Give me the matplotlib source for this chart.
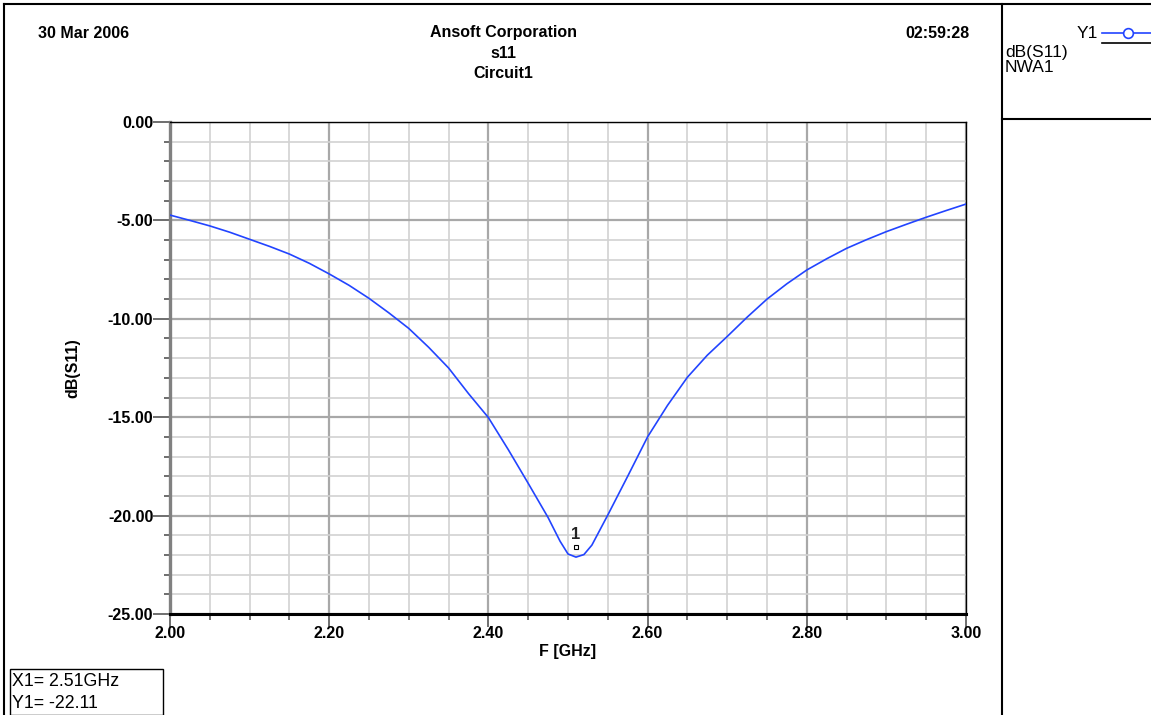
import matplotlib
matplotlib.use("Agg")
import matplotlib.pyplot as plt
from matplotlib.ticker import MultipleLocator, FixedLocator
from matplotlib.lines import Line2D
from matplotlib.patches import Rectangle

plt.rcParams['font.family'] = ['Liberation Sans', 'DejaVu Sans']

freq = [2.000, 2.025, 2.050, 2.075, 2.100, 2.125, 2.150, 2.175, 2.200, 2.225,
        2.250, 2.275, 2.300, 2.325, 2.350, 2.375, 2.400, 2.425, 2.450, 2.475,
        2.490, 2.500, 2.510, 2.520, 2.530, 2.550, 2.575, 2.600, 2.625, 2.650,
        2.675, 2.700, 2.725, 2.750, 2.775, 2.800, 2.825, 2.850, 2.875, 2.900,
        2.925, 2.950, 2.975, 3.000]
s11_db = [-4.73, -5.00, -5.28, -5.60, -5.96, -6.32, -6.71, -7.18, -7.72, -8.30,
          -8.96, -9.70, -10.49, -11.45, -12.50, -13.80, -15.02, -16.65, -18.36, -20.10,
          -21.30, -21.95, -22.11, -21.98, -21.50, -19.97, -18.00, -16.00, -14.40, -12.97,
          -11.85, -10.90, -9.92, -9.00, -8.22, -7.52, -6.95, -6.42, -5.98, -5.57,
          -5.20, -4.84, -4.50, -4.17]

x_ticks = [2.00, 2.20, 2.40, 2.60, 2.80, 3.00]
y_ticks = [0.0, -5.0, -10.0, -15.0, -20.0, -25.0]
marker_x = 2.51
marker_y = -22.11

W, H = 1151, 715
fig = plt.figure(figsize=(W / 100, H / 100), dpi=100)

def fx(px):
    return px / W

def fy(py):
    return 1 - py / H

ax = fig.add_axes([fx(170), fy(614), (966 - 170) / W, (614 - 122) / H])
ax.set_xlim(2.0, 3.0)
ax.set_ylim(-25, 0)

blue = '#2244ff'
ax.plot(freq, s11_db, color=blue, lw=1.2, zorder=3)

ax.xaxis.set_major_locator(FixedLocator(x_ticks))
ax.xaxis.set_minor_locator(MultipleLocator(0.05))
ax.yaxis.set_major_locator(FixedLocator(y_ticks))
ax.yaxis.set_minor_locator(MultipleLocator(1.0))
ax.set_xticklabels([f"{v:.2f}" for v in x_ticks], fontweight='bold', fontsize=11.5)
ax.set_yticklabels([f"{v:.2f}" for v in y_ticks], fontweight='bold', fontsize=11.5)

ax.grid(which='major', color='#a8a8a8', lw=1.6, zorder=0)
ax.grid(which='minor', color='#d2d2d2', lw=1.2, zorder=0)
ax.set_axisbelow(True)

ax.tick_params(axis='y', which='major', length=12, width=1.2, color='#555555', pad=0)
ax.tick_params(axis='both', which='minor', length=4, width=1.2, color='#555555')
ax.tick_params(axis='x', which='major', length=9, width=1.2, color='#555555', pad=0)

for s in ['top', 'right']:
    ax.spines[s].set_linewidth(1.0)
    ax.spines[s].set_color('black')
ax.spines['bottom'].set_linewidth(2.2)
ax.spines['bottom'].set_color('black')
ax.spines['left'].set_linewidth(2.4)
ax.spines['left'].set_color('#808080')

ax.set_xlabel('F [GHz]', fontweight='bold', fontsize=11.5, labelpad=2)
ax.set_ylabel('dB(S11)', fontweight='bold', fontsize=11.5, labelpad=20)

# marker
ax.plot([marker_x], [marker_y + 0.5], marker='s', ms=3.5, mfc='white', mec='black', mew=0.8, zorder=4)
ax.text(marker_x, marker_y + 0.75, '1', ha='center', va='bottom', fontsize=12, fontweight='bold', color='#222222', zorder=5)

# header texts
fs_head = 11.5
fig.text(fx(38), fy(33), '30 Mar 2006', fontweight='bold', fontsize=fs_head, va='center', ha='left')
fig.text(fx(503), fy(33), 'Ansoft Corporation', fontweight='bold', fontsize=fs_head, va='center', ha='center')
fig.text(fx(503), fy(53), 's11', fontweight='bold', fontsize=fs_head, va='center', ha='center')
fig.text(fx(503), fy(73), 'Circuit1', fontweight='bold', fontsize=fs_head, va='center', ha='center')
fig.text(fx(969), fy(33), '02:59:28', fontweight='bold', fontsize=fs_head, va='center', ha='right')

# frame lines
def fline(x0, y0, x1, y1, lw=1.5, color='black'):
    fig.add_artist(Line2D([fx(x0), fx(x1)], [fy(y0), fy(y1)], color=color, lw=lw, transform=fig.transFigure))

fline(4, 4, 1151, 4)
fline(4, 4, 4, 715)
fline(1002, 4, 1002, 715)
fline(1002, 119, 1151, 119)

# legend area
fs_leg = 12.5
fig.text(fx(1098), fy(34), 'Y1', fontsize=fs_leg, va='center', ha='right')
fline(1102, 33, 1151, 33, lw=1.2, color=blue)
fig.add_artist(Line2D([fx(1128)], [fy(33)], marker='o', ms=7, mfc='white', mec=blue, mew=1.2, transform=fig.transFigure))
fline(1102, 43, 1151, 43, lw=1.2)
fig.text(fx(1005), fy(52), 'dB(S11)', fontsize=fs_leg, va='center', ha='left')
fig.text(fx(1005), fy(68), 'NWA1', fontsize=fs_leg, va='center', ha='left')

# marker readout box
fig.add_artist(Rectangle((fx(10), fy(715)), (163 - 10) / W, (715 - 669) / H, transform=fig.transFigure,
                         fill=False, edgecolor='black', lw=1.0))
fig.text(fx(12), fy(681), 'X1= 2.51GHz', fontsize=12.8, va='center', ha='left')
fig.text(fx(12), fy(704), 'Y1= -22.11', fontsize=12.8, va='center', ha='left')

fig.savefig('out.png', dpi=100)
